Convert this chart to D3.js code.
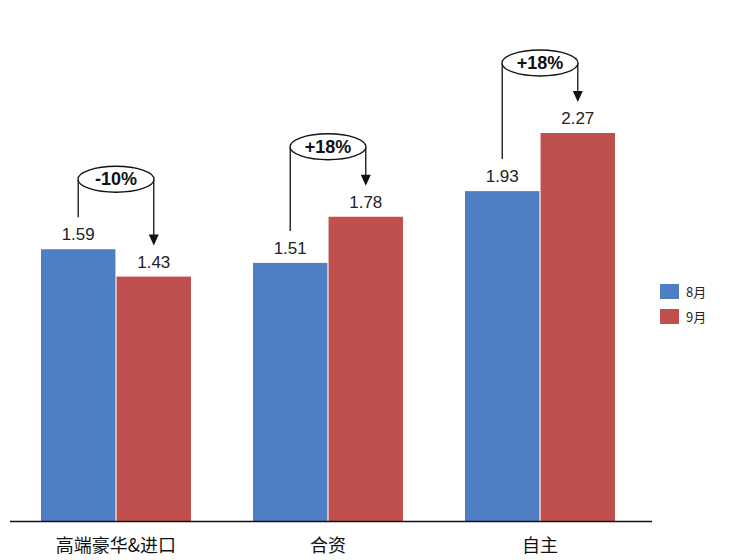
<!DOCTYPE html><html><head><meta charset="utf-8">
<script src="https://d3js.org/d3.v7.min.js"></script>
<style>body{margin:0;background:#fff}</style></head><body>
<script>
const categories=["高端豪华&进口","合资","自主"];
const aug=[1.59,1.51,1.93];
const sep=[1.43,1.78,2.27];
const changes=["-10%","+18%","+18%"];
const seriesNames=["8月","9月"];
const colors=["#4e7fc4","#c0504d"];
const W=752,H=560,base=521;
const svg=d3.select("body").append("svg").attr("width",W).attr("height",H);
const x=d3.scaleBand().domain(categories).range([41,615]).paddingInner(0.2925).paddingOuter(0);
const y=d3.scaleLinear().domain([0,2.27]).range([base,133]);
const xs=d3.scaleBand().domain([0,1]).range([0,x.bandwidth()]).paddingInner(0.015);
const f="'Liberation Sans',Arial,sans-serif";
categories.forEach((c,i)=>{
  const vals=[aug[i],sep[i]];
  vals.forEach((v,j)=>{
    const bx=x(c)+xs(j);
    svg.append("rect").attr("x",bx).attr("y",y(v)).attr("width",xs.bandwidth()).attr("height",base-y(v)).attr("fill",colors[j]);
    svg.append("text").attr("x",bx+xs.bandwidth()/2).attr("y",y(v)-9).attr("text-anchor","middle").attr("font-family",f).attr("font-size",17).attr("fill","#222").text(v.toFixed(2));
  });
  const lx=x(c)+xs(0)+xs.bandwidth()/2, rx=x(c)+xs(1)+xs.bandwidth()/2;
  const ey=Math.min(y(aug[i]),y(sep[i]))-70, cx=(lx+rx)/2;
  svg.append("line").attr("x1",lx).attr("x2",lx).attr("y1",y(aug[i])-32).attr("y2",ey).attr("stroke","#111").attr("stroke-width",1.3);
  svg.append("line").attr("x1",rx).attr("x2",rx).attr("y1",ey).attr("y2",y(sep[i])-33).attr("stroke","#111").attr("stroke-width",1.3);
  svg.append("path").attr("d",`M${rx-5},${y(sep[i])-42}L${rx+5},${y(sep[i])-42}L${rx},${y(sep[i])-31}Z`).attr("fill","#111");
  svg.append("ellipse").attr("cx",cx).attr("cy",ey).attr("rx",38).attr("ry",13).attr("fill","#fff").attr("stroke","#111").attr("stroke-width",1.3);
  svg.append("text").attr("x",cx).attr("y",ey+6).attr("text-anchor","middle").attr("font-family",f).attr("font-weight","bold").attr("font-size",18).attr("fill","#111").text(changes[i]);
  svg.append("text").attr("x",x(c)+x.bandwidth()/2).attr("y",552).attr("text-anchor","middle").attr("font-family","'Noto Sans CJK SC',sans-serif").attr("font-size",18).attr("fill","#111").text(c);
});
svg.append("line").attr("x1",10).attr("x2",652).attr("y1",base+0.5).attr("y2",base+0.5).attr("stroke","#111").attr("stroke-width",1.3);
seriesNames.forEach((s,j)=>{
  svg.append("rect").attr("x",660).attr("y",284+j*25).attr("width",19).attr("height",15).attr("fill",colors[j]);
  svg.append("text").attr("x",686).attr("y",297+j*25).attr("font-family","'Noto Sans CJK SC',sans-serif").attr("font-size",13).attr("fill","#222").text(s);
});
</script></body></html>
